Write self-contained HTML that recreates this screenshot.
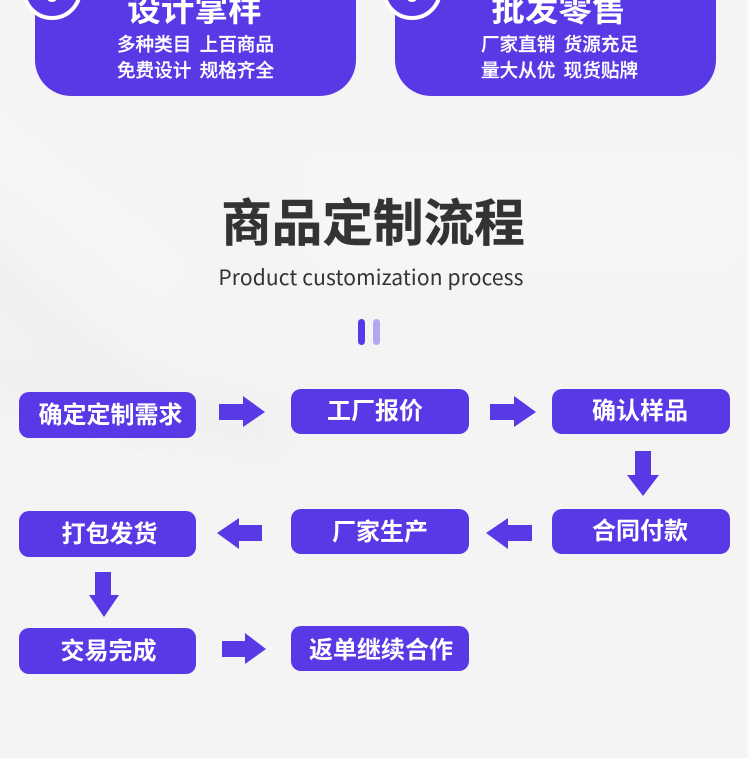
<!DOCTYPE html>
<html lang="zh">
<head>
<meta charset="utf-8">
<title>商品定制流程</title>
<style>
html,body{margin:0;padding:0}
body{width:750px;height:758px;overflow:hidden;position:relative;background:#f3f3f4;font-family:"Liberation Sans","Noto Sans CJK SC",sans-serif}
.bg{position:absolute;left:0;top:0;width:747px;height:758px;overflow:hidden;background:#f4f4f5}
.band{position:absolute;filter:blur(18px);transform-origin:0 0}
.strip{position:absolute;left:747px;top:0;width:3px;height:758px;background:#fbfbfb}
.card{position:absolute;top:-60px;width:321px;height:156px;background:#5939e5;border-radius:36px}
.ring{position:absolute;top:-40px;width:52px;height:52px;border:4px solid #fff;border-radius:50%;background:#5939e5;overflow:hidden}
.ring i{position:absolute;left:20px;top:26px;width:12px;height:12px;background:#fff;border-radius:50%}
.t{position:absolute;white-space:nowrap;text-align:center;font-family:"Noto Sans CJK SC",sans-serif}
.ct{font-size:33.5px;font-weight:700;color:#fff;line-height:40px;width:321px;top:-13px;letter-spacing:.1px}
.cl{font-size:18.6px;font-weight:500;color:#fff;line-height:26px;width:321px;-webkit-text-stroke:.2px #fff}
.box{position:absolute;background:#5939e5;border-radius:10px;color:#fff;font-family:"Noto Sans CJK SC",sans-serif;font-weight:700;font-size:24px;white-space:nowrap;text-align:center}
.box span{position:relative;display:inline-block}
.bar{position:absolute;top:319px;width:7px;height:26px;border-radius:4px}
svg{position:absolute;left:0;top:0}
</style>
</head>
<body>
<div class="bg">
  <div class="band" style="left:-40px;top:225px;width:280px;height:36px;background:#eeeef0;transform:rotate(42deg)"></div>
  <div class="band" style="left:-20px;top:110px;width:260px;height:30px;background:#f8f8f9;transform:rotate(38deg)"></div>
  <div class="band" style="left:-30px;top:340px;width:330px;height:50px;background:#f0f0f1;transform:rotate(12deg)"></div>
  <div class="band" style="left:300px;top:150px;width:450px;height:120px;background:#f6f6f7"></div>
</div>
<div class="strip"></div>

<div class="card" style="left:35px"></div>
<div class="card" style="left:395px"></div>
<div class="ring" style="left:22px"><i></i></div>
<div class="ring" style="left:382px"><i></i></div>
<div class="t ct" style="left:34px">设计掌样</div>
<div class="t ct" style="left:398px">批发零售</div>
<div class="t cl" style="left:35px;top:31px">多种类目&nbsp;&nbsp;上百商品</div>
<div class="t cl" style="left:35px;top:57px">免费设计&nbsp;&nbsp;规格齐全</div>
<div class="t cl" style="left:399px;top:31px">厂家直销&nbsp;&nbsp;货源充足</div>
<div class="t cl" style="left:399px;top:57px">量大从优&nbsp;&nbsp;现货贴牌</div>

<div class="t" style="left:171px;width:404px;top:183px;line-height:72px;font-size:50.6px;font-weight:700;color:#333;-webkit-text-stroke:.4px #333">商品定制流程</div>
<div class="t" style="left:171px;width:400px;top:262px;line-height:30px;font-size:21px;font-weight:400;color:#333;letter-spacing:.14px">Product customization process</div>
<div class="bar" style="left:358px;background:#5939e5"></div>
<div class="bar" style="left:373px;background:#b3a8f0"></div>

<div class="box" style="left:19px;top:392px;width:177px;height:46px;line-height:41px"><span style="left:3px">确定定制需求</span></div>
<div class="box" style="left:291px;top:389px;width:178px;height:45px;line-height:40px"><span style="left:-5px">工厂报价</span></div>
<div class="box" style="left:552px;top:389px;width:178px;height:45px;line-height:40px"><span style="left:-1px">确认样品</span></div>
<div class="box" style="left:19px;top:511px;width:177px;height:46px;line-height:41px"><span style="left:2px">打包发货</span></div>
<div class="box" style="left:291px;top:509px;width:178px;height:45px;line-height:42px">厂家生产</div>
<div class="box" style="left:552px;top:509px;width:178px;height:45px;line-height:40px"><span style="left:-1px">合同付款</span></div>
<div class="box" style="left:19px;top:628px;width:177px;height:46px;line-height:41px"><span style="left:1px">交易完成</span></div>
<div class="box" style="left:291px;top:626px;width:178px;height:45px;line-height:44px"><span style="left:1px">返单继续合作</span></div>

<svg width="750" height="758" viewBox="0 0 750 758" fill="#5939e5">
<polygon points="219,404 243,404 243,396 265,412 243,427 243,420 219,420"/>
<polygon points="490,404 514,404 514,396 536,412 514,427 514,420 490,420"/>
<polygon points="635,451 651,451 651,475 659,475 643,496 627,475 635,475"/>
<polygon points="262,525 239,525 239,518 217,533 239,549 239,541 262,541"/>
<polygon points="532,525 508,525 508,518 486,533 508,549 508,541 532,541"/>
<polygon points="95,572 111,572 111,595 119,595 104,617 89,595 95,595"/>
<polygon points="222,641 245,641 245,633 266,649 245,664 245,657 222,657"/>
</svg>
</body>
</html>
